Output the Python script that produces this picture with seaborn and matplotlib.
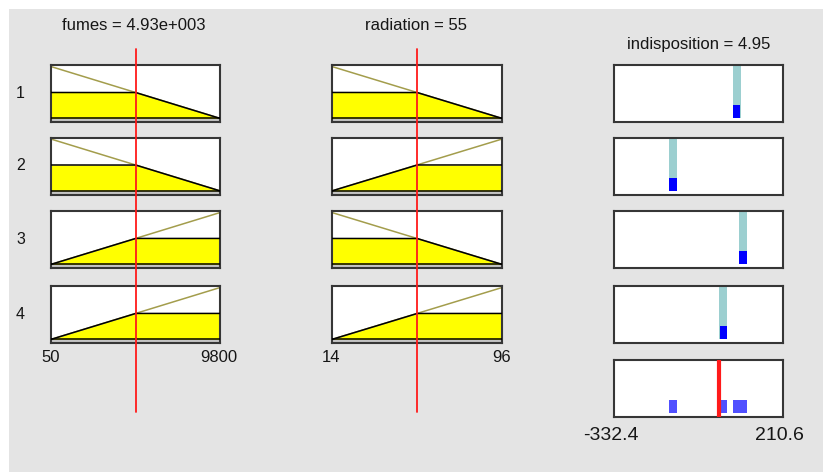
import numpy as np
import matplotlib
matplotlib.use("Agg")
import matplotlib.pyplot as plt
import seaborn as sns
from matplotlib.lines import Line2D
from matplotlib.patches import Rectangle
from matplotlib.transforms import blended_transform_factory

# ---- fuzzy system data -------------------------------------------------
input_names = ["fumes", "radiation"]
fumes_range = [50, 9800]
radiation_range = [14, 96]
fumes_value = 4930
radiation_value = 55

# rule base: antecedent terms per input and singleton consequents (Sugeno)
rule_fumes = ["low", "low", "high", "high"]
rule_radiation = ["low", "high", "low", "high"]
rule_output = [62.0, -143.0, 82.0, 18.6]

output_name = "indisposition"
output_range = [-332.4, 210.6]

# ---- styling ------------------------------------------------------------
sns.set_theme(style="white")
plt.rcParams["font.family"] = ["Liberation Sans", "DejaVu Sans"]

W, H = 823, 472
BG = "#e4e4e4"
TXT = "#161616"
MF_LINE = "#a39d4c"
FILL = "#ffff00"
TEAL = "#9ccfd0"
BLUE = "#0000ff"
AGG_BLUE = "#5050ff"
RED = "#ff1a1a"
YLIM = (-0.07, 1.03)

col_x = [(51, 220), (332, 502)]
out_x = (614, 783)
row_tops = [65, 137.5, 211, 286]
agg_top = 360
panel_h = 57


def px_rect(x0, y0, x1, y1):
    return [x0 / W, 1 - y1 / H, (x1 - x0) / W, (y1 - y0) / H]


def fmt(v):
    s = f"{v:.3g}"
    if "e" in s:
        mant, exp = s.split("e")
        s = f"{mant}e{exp[0]}{exp[1:].zfill(3)}"
    return s


def ramp(x, lo, hi, term):
    t = (np.asarray(x, dtype=float) - lo) / (hi - lo)
    return 1 - t if term == "low" else t


def style_panel(ax, xlim):
    ax.set_xlim(*xlim)
    ax.set_ylim(*YLIM)
    ax.set_xticks([])
    ax.set_yticks([])
    ax.set_facecolor("white")
    for sp in ax.spines.values():
        sp.set_color("#363636")
        sp.set_linewidth(1.5)


ranges = [fumes_range, radiation_range]
values = [fumes_value, radiation_value]
terms = [rule_fumes, rule_radiation]

# firing strength of each rule (product AND)
degrees = [[float(ramp(values[j], *ranges[j], terms[j][i])) for j in range(2)]
           for i in range(len(rule_output))]
weights = np.array([d[0] * d[1] for d in degrees])
out_value = float(np.sum(weights * np.array(rule_output)) / np.sum(weights))

fig = plt.figure(figsize=(W / 100, H / 100), dpi=100)
fig.patch.set_facecolor("white")
fig.add_artist(Rectangle((9 / W, 0), 1 - 9 / W, 1 - 9 / H, transform=fig.transFigure,
                         facecolor=BG, edgecolor="none", zorder=-10))

bottom_axes = []
for j in range(2):
    lo, hi = ranges[j]
    grid = np.linspace(lo, hi, 300)
    for i in range(len(rule_output)):
        top = row_tops[i]
        ax = fig.add_axes(px_rect(col_x[j][0], top, col_x[j][1], top + panel_h))
        style_panel(ax, (lo, hi))
        mf = ramp(grid, lo, hi, terms[j][i])
        clipped = np.minimum(mf, degrees[i][j])
        ax.axhspan(YLIM[0], 0, color="#c4c4c4", lw=0, zorder=0)
        ax.fill_between(grid, 0, clipped, color=FILL, lw=0, zorder=1)
        sns.lineplot(x=grid, y=mf, color=MF_LINE, lw=1.1, ax=ax, legend=False, zorder=2)
        ax.plot(grid, clipped, color="black", lw=1.1, zorder=3)
        ax.axhline(0, color="black", lw=1.1, zorder=3)
        if i == len(rule_output) - 1:
            bottom_axes.append(ax)
            for v in (lo, hi):
                ax.annotate(f"{v:g}", xy=(v, 0), xycoords=("data", "axes fraction"),
                            xytext=(-0.5, -10.5), textcoords="offset points",
                            ha="center", va="center", fontsize=12, color=TXT)
    # current input value marker across the column
    trans = blended_transform_factory(bottom_axes[j].transData, fig.transFigure)
    fig.add_artist(Line2D([values[j], values[j]], [1 - 49 / H, 1 - 412 / H],
                          transform=trans, color=RED, lw=1.3, zorder=5))
    cx = (col_x[j][0] + col_x[j][1]) / 2 - 1.5
    fig.text(cx / W, 1 - 26 / H, f"{input_names[j]} = {fmt(values[j])}",
             ha="center", va="center", fontsize=12, color=TXT)

# rule numbers
for i, top in enumerate(row_tops):
    fig.text(20.5 / W, 1 - (top + panel_h / 2) / H, str(i + 1),
             ha="center", va="center", fontsize=11.5, color=TXT)

# output column: one panel per rule
for i, top in enumerate(row_tops):
    ax = fig.add_axes(px_rect(out_x[0], top, out_x[1], top + panel_h))
    style_panel(ax, output_range)
    ax.bar([rule_output[i]], [YLIM[1] + 0.05], width=27, color=TEAL, lw=0, zorder=1)
    ax.bar([rule_output[i]], [weights[i]], width=24, color=BLUE, lw=0, zorder=2)

# aggregated output
ax = fig.add_axes(px_rect(out_x[0], agg_top, out_x[1], agg_top + panel_h))
style_panel(ax, output_range)
ax.bar(rule_output, weights, width=26, color=AGG_BLUE, lw=0, zorder=1)
ax.axvline(out_value, color=RED, lw=3, zorder=3)
for v in output_range:
    ax.annotate(f"{v:g}", xy=(v, 0), xycoords=("data", "axes fraction"),
                xytext=(-2.5, -13.2), textcoords="offset points",
                ha="center", va="center", fontsize=14, color=TXT)

fig.text((out_x[0] + out_x[1]) / 2 / W, 1 - 44 / H, f"{output_name} = {fmt(out_value)}",
         ha="center", va="center", fontsize=12, color=TXT)

fig.savefig("out.png", dpi=100, facecolor=fig.get_facecolor())
